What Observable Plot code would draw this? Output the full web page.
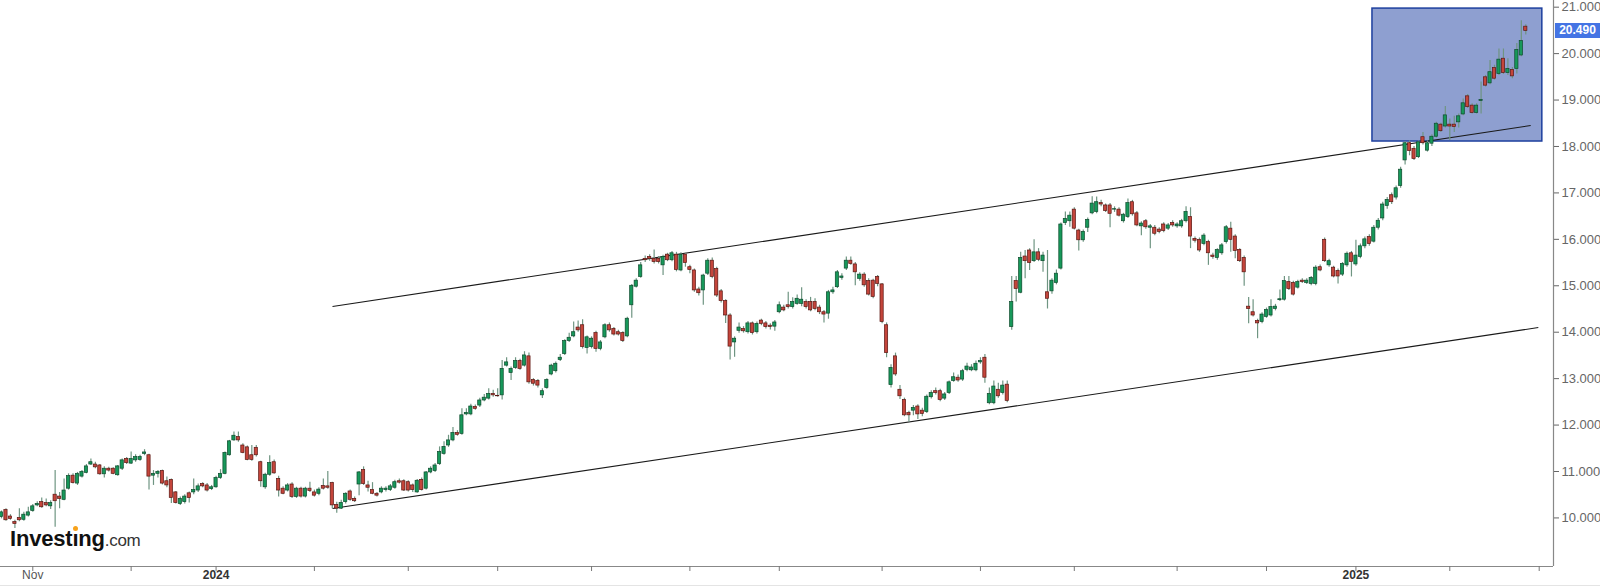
<!DOCTYPE html>
<html><head><meta charset="utf-8">
<script src="https://cdn.jsdelivr.net/npm/d3@7"></script>
<script src="https://cdn.jsdelivr.net/npm/@observablehq/plot@0.6"></script>
<style>
html,body{margin:0;padding:0;background:#fff;}
#wrap{position:relative;width:1600px;height:587px;overflow:hidden;font-family:"Liberation Sans",Arial,sans-serif;background:#fff;}
#logo{position:absolute;left:10px;top:528px;font-weight:bold;font-size:22px;color:#111;letter-spacing:-0.2px;line-height:1;white-space:nowrap;}
#logo .com{font-weight:normal;font-size:17px;color:#333;letter-spacing:-0.3px;}
#logo .ii{position:relative;display:inline-block;}
#logo .dot{position:absolute;left:1px;top:-2px;width:5px;height:5px;border-radius:50%;background:#f7a21b;}
#price{position:absolute;left:1555px;top:23px;width:45px;height:15px;background:#4474e4;color:#fff;font-size:12px;font-weight:bold;line-height:15px;text-align:center;}
#bottomline{position:absolute;left:0;top:585px;width:1600px;height:1px;background:#e4e4e4;}
</style></head>
<body><div id="wrap"><div id="chart"></div>
<div id="logo">Invest<span class="ii">ı<span class="dot"></span></span>ng<span class="com">.com</span></div>
<div id="price"></div><div id="bottomline"></div></div>
<script>
// daily candles: [open, high, low, close]
const ohlc = [
[10.02,10.15,9.98,10.12],[10.17,10.2,9.93,9.95],[10.03,10.07,9.95,9.98],[9.91,9.95,9.77,9.87],[10.0,10.2,9.92,9.95],
[9.96,10.12,9.93,10.07],[10.05,10.23,10.02,10.12],[10.15,10.29,10.12,10.25],[10.27,10.35,10.24,10.3],[10.34,10.43,10.21,10.23],
[10.32,10.41,10.24,10.27],[10.25,10.37,10.18,10.32],[10.5,11.02,9.8,10.36],[10.46,10.55,10.2,10.41],[10.39,10.84,10.37,10.59],
[10.63,10.95,10.6,10.9],[10.91,10.95,10.73,10.75],[10.74,10.98,10.7,10.95],[10.89,11.02,10.86,10.99],[10.97,11.15,10.95,11.11],
[11.15,11.27,11.13,11.2],[11.15,11.2,11.06,11.09],[11.13,11.15,10.92,10.94],[10.94,11.1,10.86,11.06],[11.06,11.09,10.99,11.02],
[11.06,11.08,10.93,10.95],[10.92,11.13,10.9,11.11],[11.06,11.27,11.02,11.24],[11.27,11.3,11.15,11.18],[11.17,11.42,11.15,11.27],
[11.24,11.36,11.2,11.31],[11.25,11.35,11.22,11.31],[11.38,11.47,11.34,11.41],[11.35,11.37,10.6,10.89],[10.91,11.02,10.7,10.95],
[10.95,11.02,10.86,10.99],[11.01,11.03,10.71,10.74],[10.79,10.88,10.65,10.7],[10.82,10.84,10.31,10.43],[10.55,10.57,10.3,10.32],
[10.3,10.45,10.27,10.41],[10.34,10.5,10.3,10.46],[10.53,10.56,10.32,10.43],[10.55,10.84,10.5,10.6],[10.59,10.73,10.55,10.68],
[10.73,10.76,10.65,10.68],[10.7,10.74,10.56,10.59],[10.62,10.7,10.59,10.66],[10.66,10.9,10.64,10.86],[10.86,11.04,10.83,10.95],
[10.95,11.42,10.93,11.4],[11.35,11.67,11.33,11.65],[11.67,11.85,11.65,11.77],[11.74,11.85,11.63,11.67],[11.56,11.6,11.38,11.4],
[11.52,11.55,11.23,11.25],[11.35,11.56,11.22,11.25],[11.51,11.56,11.31,11.35],[11.2,11.22,10.66,10.79],[10.66,10.96,10.62,10.93],
[10.93,11.34,10.9,11.18],[11.2,11.25,10.94,10.96],[10.84,10.9,10.45,10.59],[10.63,10.67,10.5,10.52],[10.59,10.74,10.56,10.7],
[10.72,10.76,10.42,10.45],[10.45,10.66,10.42,10.63],[10.63,10.66,10.43,10.46],[10.46,10.66,10.43,10.63],[10.63,10.77,10.55,10.58],
[10.55,10.6,10.45,10.48],[10.52,10.65,10.48,10.61],[10.69,10.84,10.6,10.63],[10.68,11.0,10.62,10.65],[10.75,10.77,10.2,10.27],
[10.28,10.34,10.1,10.2],[10.2,10.38,10.18,10.32],[10.34,10.54,10.3,10.52],[10.57,10.6,10.36,10.39],[10.41,10.45,10.33,10.36],
[10.72,11.0,10.48,10.98],[11.03,11.1,10.7,10.73],[10.7,10.79,10.56,10.65],[10.6,10.76,10.5,10.52],[10.52,10.55,10.45,10.48],
[10.55,10.67,10.52,10.63],[10.6,10.67,10.56,10.63],[10.6,10.72,10.57,10.68],[10.65,10.81,10.62,10.77],[10.79,10.84,10.73,10.76],
[10.79,10.82,10.57,10.59],[10.77,10.8,10.56,10.59],[10.7,10.73,10.55,10.6],[10.55,10.83,10.53,10.8],[10.82,10.86,10.58,10.6],
[10.63,11.0,10.6,10.98],[10.98,11.1,10.95,11.06],[11.01,11.17,10.98,11.13],[11.16,11.53,11.13,11.42],[11.38,11.64,11.35,11.53],
[11.56,11.78,11.52,11.67],[11.67,11.95,11.64,11.83],[11.83,11.88,11.76,11.79],[11.81,12.35,11.78,12.21],[12.23,12.35,12.2,12.26],
[12.23,12.45,12.2,12.4],[12.39,12.43,12.32,12.35],[12.42,12.58,12.38,12.53],[12.53,12.66,12.5,12.59],[12.57,12.78,12.54,12.67],
[12.67,12.75,12.6,12.64],[12.63,12.78,12.6,12.62],[12.64,13.39,12.54,13.21],[13.28,13.45,13.25,13.35],[13.12,13.25,12.96,13.21],
[13.23,13.45,13.2,13.38],[13.38,13.42,13.18,13.21],[13.28,13.58,13.25,13.5],[13.48,13.55,12.88,12.92],[12.97,13.0,12.84,12.89],
[12.95,12.98,12.8,12.85],[12.64,12.78,12.57,12.73],[12.8,13.0,12.77,12.97],[13.09,13.31,13.06,13.28],[13.16,13.36,13.12,13.32],
[13.4,13.52,13.37,13.45],[13.53,13.84,13.5,13.81],[13.81,13.98,13.78,13.88],[13.91,14.22,13.88,14.0],[14.1,14.24,14.0,14.04],
[14.15,14.27,13.64,13.68],[13.66,13.92,13.53,13.89],[13.68,13.9,13.64,13.86],[13.98,14.02,13.57,13.64],[13.64,13.82,13.6,13.78],
[13.89,14.18,13.86,14.15],[14.15,14.2,14.0,14.04],[14.07,14.1,13.92,13.95],[14.0,14.04,13.92,13.95],[13.98,14.01,13.78,13.81],
[13.91,14.32,13.88,14.29],[14.58,15.03,14.3,15.0],[14.98,15.15,14.95,15.11],[15.19,15.5,15.16,15.44],[15.58,15.64,15.5,15.55],
[15.62,15.67,15.53,15.58],[15.58,15.77,15.47,15.51],[15.58,15.63,15.47,15.51],[15.44,15.66,15.22,15.62],[15.67,15.7,15.52,15.55],
[15.55,15.74,15.52,15.7],[15.67,15.72,15.3,15.34],[15.33,15.71,15.3,15.67],[15.67,15.7,15.4,15.49],[15.4,15.44,15.26,15.34],
[15.33,15.36,14.86,14.9],[14.92,14.97,14.78,14.84],[14.9,15.25,14.58,15.22],[15.26,15.58,15.22,15.54],[15.54,15.6,15.15,15.19],
[15.36,15.4,14.75,14.79],[14.88,14.92,14.63,14.67],[14.67,14.7,14.19,14.36],[14.36,14.4,13.4,13.69],[13.78,13.9,13.46,13.86],
[14.03,14.2,13.98,14.1],[14.07,14.12,13.98,14.02],[14.0,14.23,13.96,14.19],[14.19,14.22,13.94,13.98],[14.0,14.22,13.96,14.18],
[14.25,14.28,14.14,14.18],[14.19,14.23,14.07,14.11],[14.14,14.18,14.05,14.11],[14.12,14.25,14.02,14.21],[14.43,14.65,14.4,14.58],
[14.53,14.58,14.44,14.47],[14.58,14.86,14.5,14.54],[14.54,14.74,14.5,14.65],[14.61,14.8,14.58,14.72],[14.61,14.96,14.55,14.7],
[14.65,14.7,14.5,14.54],[14.65,14.75,14.44,14.47],[14.65,14.72,14.46,14.5],[14.53,14.58,14.38,14.43],[14.43,14.47,14.2,14.38],
[14.4,14.9,14.28,14.86],[14.86,14.97,14.82,14.9],[14.97,15.33,14.94,15.29],[15.17,15.26,15.12,15.2],[15.37,15.62,15.33,15.54],
[15.54,15.62,15.44,15.47],[15.46,15.5,15.0,15.29],[15.15,15.28,15.1,15.24],[15.24,15.28,14.97,15.01],[15.1,15.15,14.78,14.81],
[15.11,15.14,14.72,14.76],[15.19,15.22,14.98,15.04],[15.03,15.05,14.18,14.22],[14.15,14.2,13.45,13.55],[12.86,13.3,12.8,13.23],
[13.48,13.55,13.05,13.09],[12.76,12.85,12.55,12.62],[12.54,12.58,12.18,12.21],[12.26,12.3,12.06,12.21],[12.31,12.42,12.2,12.37],
[12.4,12.44,12.12,12.23],[12.31,12.36,12.18,12.24],[12.28,12.65,12.25,12.61],[12.6,12.74,12.56,12.69],[12.73,12.8,12.65,12.69],
[12.73,12.77,12.5,12.54],[12.57,12.7,12.53,12.66],[12.69,12.95,12.66,12.92],[12.95,13.12,12.92,13.03],[13.02,13.08,12.92,12.96],
[12.98,13.2,12.94,13.16],[13.19,13.33,13.15,13.26],[13.18,13.3,13.15,13.24],[13.18,13.38,13.15,13.32],[13.35,13.45,13.31,13.38],
[13.45,13.52,12.9,13.02],[12.47,12.8,12.44,12.67],[12.47,12.95,12.44,12.83],[12.76,12.9,12.58,12.62],[12.69,12.95,12.65,12.85],
[12.87,12.95,12.48,12.52],[14.11,15.2,14.04,14.65],[15.1,15.2,14.65,14.93],[14.85,15.72,14.83,15.6],[15.63,15.76,15.15,15.53],
[15.76,15.8,15.33,15.49],[15.53,15.99,15.5,15.72],[15.72,15.8,15.52,15.56],[15.53,15.72,15.29,15.65],[14.86,15.76,14.5,14.72],
[14.88,15.15,14.82,15.11],[15.06,15.34,15.02,15.26],[15.37,16.35,15.34,16.32],[16.35,16.59,16.3,16.44],[16.39,16.59,16.26,16.51],
[16.64,16.68,16.2,16.23],[16.19,16.22,15.75,15.98],[15.98,16.2,15.94,16.16],[16.25,16.46,16.15,16.42],[16.56,16.92,16.53,16.77],
[16.59,16.91,16.55,16.8],[16.78,16.84,16.7,16.75],[16.73,16.76,16.58,16.61],[16.73,16.77,16.25,16.55],[16.64,16.7,16.58,16.65],
[16.64,16.68,16.48,16.51],[16.39,16.56,16.35,16.53],[16.48,16.87,16.45,16.78],[16.8,16.84,16.5,16.54],[16.56,16.6,16.27,16.3],
[16.28,16.38,16.08,16.34],[16.39,16.43,16.22,16.26],[16.25,16.32,15.8,16.28],[16.25,16.3,16.08,16.12],[16.21,16.25,16.12,16.16],
[16.32,16.36,16.14,16.18],[16.23,16.34,16.19,16.3],[16.35,16.4,16.26,16.3],[16.28,16.36,16.24,16.32],[16.28,16.43,16.24,16.39],
[16.39,16.7,16.35,16.59],[16.48,16.68,15.8,16.06],[16.01,16.05,15.92,15.97],[15.99,16.03,15.72,15.76],[15.9,16.12,15.86,16.08],
[15.94,15.98,15.44,15.7],[15.65,15.7,15.57,15.62],[15.6,15.8,15.55,15.77],[15.7,15.91,15.66,15.87],[15.94,16.3,15.9,16.26],
[16.23,16.37,15.72,15.99],[16.06,16.1,15.58,15.75],[15.77,15.8,15.5,15.53],[15.6,15.64,14.99,15.29],[14.55,14.75,14.18,14.5],
[14.43,14.7,14.33,14.36],[14.24,14.28,13.86,14.19],[14.22,14.42,14.18,14.38],[14.33,14.52,14.3,14.48],[14.36,14.7,14.33,14.54],
[14.5,14.6,14.46,14.55],[14.69,14.91,14.66,14.71],[14.7,15.2,14.67,15.1],[15.08,15.2,14.9,14.93],[15.06,15.1,14.78,14.81],
[14.96,15.12,14.93,15.08],[15.11,15.15,15.05,15.08],[15.06,15.15,15.03,15.11],[15.04,15.2,15.0,15.17],[15.04,15.43,15.0,15.39],
[15.4,15.45,15.3,15.33],[15.99,16.03,15.5,15.53],[15.44,15.57,15.4,15.53],[15.39,15.42,15.17,15.2],[15.32,15.36,15.04,15.2],
[15.24,15.5,15.2,15.47],[15.44,15.73,15.4,15.69],[15.7,15.74,15.19,15.51],[15.46,15.98,15.42,15.65],[15.62,15.9,15.58,15.85],
[15.85,16.05,15.8,16.0],[16.05,16.1,15.85,15.9],[15.95,16.3,15.92,16.25],[16.25,16.45,16.2,16.4],[16.45,16.8,16.4,16.75],
[16.72,16.9,16.65,16.85],[16.95,17.0,16.75,16.8],[16.9,17.15,16.85,17.1],[17.15,17.55,17.1,17.5],[17.7,18.1,17.6,18.07],
[18.07,18.12,17.8,17.9],[17.95,18.0,17.7,17.73],[17.77,18.12,17.74,18.09],[18.2,18.3,18.03,18.07],[17.91,18.12,17.88,18.07],
[18.06,18.25,18.0,18.21],[18.21,18.52,18.18,18.49],[18.47,18.5,18.3,18.33],[18.43,18.86,18.4,18.67],[18.47,18.59,18.13,18.43],
[18.47,18.65,18.3,18.42],[18.52,18.7,18.4,18.65],[18.69,19.02,18.66,18.93],[19.08,19.12,18.82,18.85],[18.88,18.92,18.7,18.72],
[18.72,18.92,18.7,18.88],[18.98,19.39,18.7,19.0],[19.49,19.53,19.28,19.31],[19.36,19.85,19.33,19.6],[19.69,19.75,19.43,19.46],
[19.56,20.1,19.53,19.87],[19.89,20.1,19.55,19.58],[19.58,19.89,19.53,19.67],[19.65,19.7,19.46,19.51],[19.67,20.22,19.56,20.08],
[19.96,20.71,19.93,20.27],[20.58,20.62,20.4,20.49]
];
// month ticks (trading-day index) and their labels
const xTicks = [7,29,48,70,91,111,132,154,174,197,219,240,263,283,303,324,344];
const xTickLabels = ["Nov","","2024","","","","","","","","","","","","2025","",""];
const yTicks = [10,11,12,13,14,15,16,17,18,19,20,21];
// channel lines: [index1, value1, index2, value2]
const trendLines = [[74.05,14.554,342.1,18.452],[74.05,10.203,343.8,14.10]];
// highlight box: [index1, index2, valueLow, valueHigh]
const highlightBox = [306.7,344.7,18.107,20.97];

const candles = ohlc.map((d,i)=>({i,o:d[0],h:d[1],l:d[2],c:d[3],up:d[3]>=d[0]}));
const lines = trendLines.map(d=>({x1:d[0],y1:d[1],x2:d[2],y2:d[3]}));
const box = [{x1:highlightBox[0],x2:highlightBox[1],y1:highlightBox[2],y2:highlightBox[3]}];
const labelData = xTicks.map((t,k)=>({i:t,label:xTickLabels[k],year:/^\d{4}$/.test(xTickLabels[k])})).filter(d=>d.label);

const chart = Plot.plot({
  width:1600, height:587, marginLeft:0, marginRight:47, marginTop:0, marginBottom:21,
  x:{domain:[-0.224,347.2]},
  y:{domain:[8.954,21.144]},
  style:{fontFamily:"'Liberation Sans', Arial, sans-serif", background:"#fff", overflow:"visible"},
  marks:[
    Plot.rect(box,{x1:"x1",x2:"x2",y1:"y1",y2:"y2",fill:"#8e9fd0",stroke:"#1d3f9e",strokeWidth:1.5}),
    Plot.link(lines,{x1:"x1",y1:"y1",x2:"x2",y2:"y2",stroke:"#1a1a1a",strokeWidth:1.1}),
    Plot.ruleX(candles,{x:"i",y1:"l",y2:"h",stroke:"#6f9582",strokeWidth:1.2}),
    Plot.rect(candles,{x1:d=>d.i-0.36,x2:d=>d.i+0.36,y1:"o",y2:"c",
      fill:d=>d.up?"#17985a":"#c4453b", stroke:d=>d.up?"#0d4a2c":"#5a1612", strokeWidth:0.7}),
    Plot.ruleX([347.2],{stroke:"#888",strokeWidth:1.2}),
    Plot.ruleY([8.954],{stroke:"#888",strokeWidth:1.2}),
    Plot.axisY({anchor:"right",ticks:yTicks,tickFormat:d=>d.toFixed(3),tickSize:5,tickPadding:3,
      color:"#666",fontSize:13,label:null}),
    Plot.axisX({ticks:xTicks,tickFormat:()=>"",tickSize:5,color:"#777",label:null}),
    Plot.text(labelData.filter(d=>!d.year),{x:"i",text:"label",frameAnchor:"bottom",dy:12,fontSize:12,fill:"#555"}),
    Plot.text(labelData.filter(d=>d.year),{x:"i",text:"label",frameAnchor:"bottom",dy:12,fontSize:12,fill:"#333",fontWeight:"bold"})
  ]
});
document.getElementById("chart").appendChild(chart);
document.getElementById("price").textContent = ohlc[ohlc.length-1][3].toFixed(3);
</script></body></html>
